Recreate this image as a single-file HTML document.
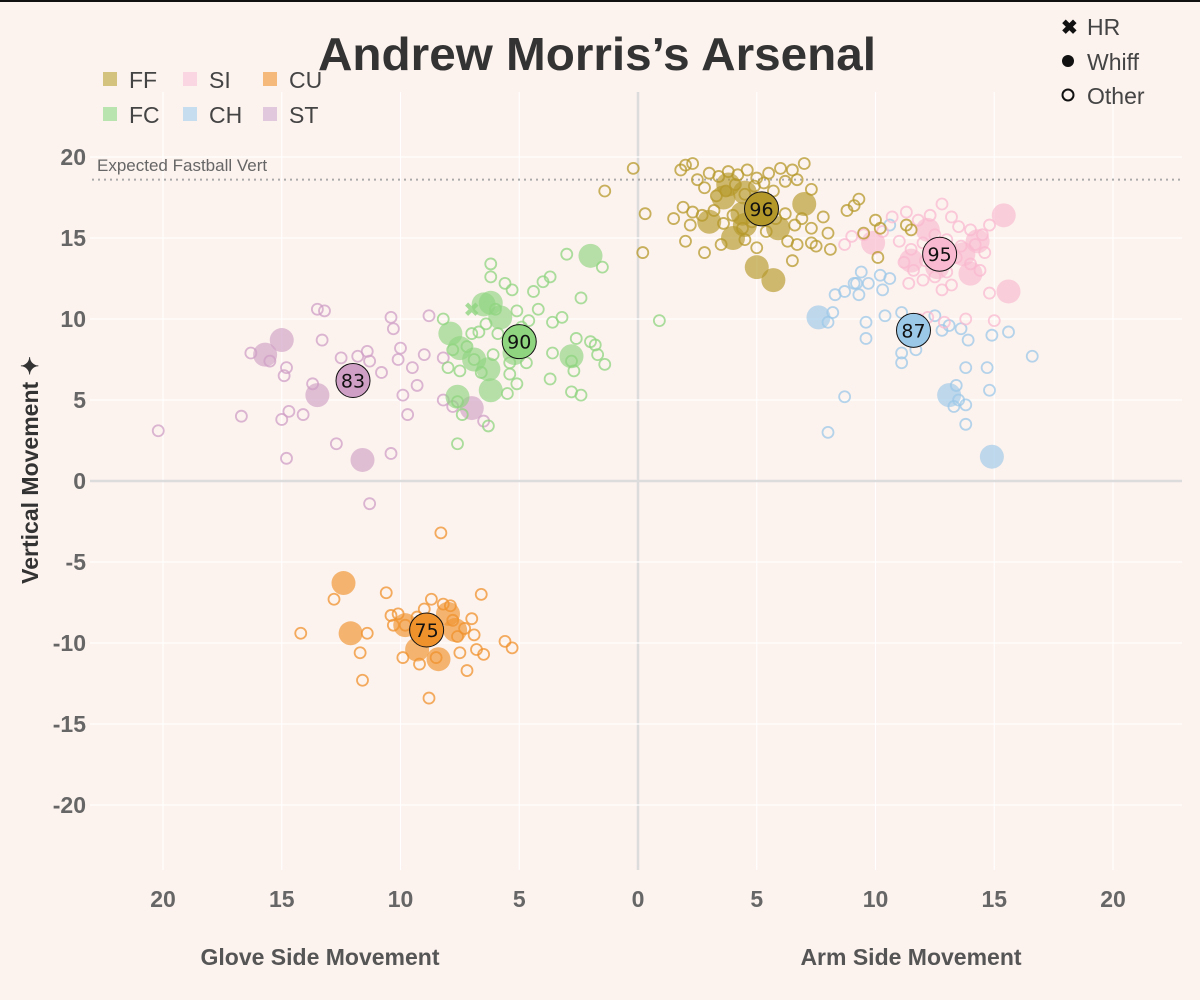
<!DOCTYPE html>
<html><head><meta charset="utf-8"><style>
body{margin:0;background:#fcf2ee;}
svg{display:block;font-family:"Liberation Sans Narrow","Liberation Sans",sans-serif;}
</style></head><body>
<svg id="chart" width="1200" height="1000" viewBox="0 0 1200 1000">
<rect x="0" y="0" width="1200" height="1000" fill="#fcf2ee"/>
<rect x="0" y="0" width="1200" height="2" fill="#111"/>
<g id="grid"></g>
<g id="axes"></g>
<g id="marks"></g>
<text x="597" y="70" text-anchor="middle" font-size="46" font-weight="bold" fill="#333" textLength="558" lengthAdjust="spacingAndGlyphs">Andrew Morris’s Arsenal</text>
<g id="legend"></g>
<g font-size="23" fill="#444">
 <g><text x="1061" y="34" font-size="20" font-weight="bold" fill="#111">✖</text><text x="1087" y="35">HR</text></g>
 <g><circle cx="1068" cy="61" r="6" fill="#111"/><text x="1087" y="70">Whiff</text></g>
 <g><circle cx="1068" cy="95" r="5.5" fill="none" stroke="#111" stroke-width="2"/><text x="1087" y="104">Other</text></g>
</g>
<text x="97" y="171" font-size="17" fill="#666">Expected Fastball Vert</text>
<text x="320" y="965" text-anchor="middle" font-size="23" font-weight="bold" fill="#555">Glove Side Movement</text>
<text x="911" y="965" text-anchor="middle" font-size="23" font-weight="bold" fill="#555">Arm Side Movement</text>
<text transform="translate(38,470) rotate(-90)" text-anchor="middle" font-size="23" font-weight="bold" fill="#333">Vertical Movement ✦</text>
</svg>
<script>
const xTicks=[-20,-15,-10,-5,0,5,10,15,20];
const yTicks=[20,15,10,5,0,-5,-10,-15,-20];
const expectedVert=18.6;
const pitchTypes=["FF","FC","SI","CH","CU","ST"];
const pitchColors={FF:"#b5982a",FC:"#8fd47f",SI:"#f9b9d0",CH:"#9cc8e8",CU:"#f0922c",ST:"#cf9fc5"};
const legendColors={FF:"#d4c27f",FC:"#b9e3af",SI:"#fad6e3",CH:"#c5ddef",CU:"#f5b97c",ST:"#e2c8dd"};
const ffOther=[[-0.2,19.3],[0.3,16.5],[0.2,14.1],[-1.4,17.9],[2,19.5],[2.3,19.6],[1.8,19.2],[2.5,18.6],[3,19],[3.4,18.8],[3.8,19.1],[4.2,18.9],[4.6,19.2],[5,18.7],[5.5,19],[6,19.3],[6.5,19.2],[7,19.6],[2.8,18.1],[3.3,17.6],[3.7,17.9],[4.1,18.3],[4.5,17.7],[4.9,18.2],[5.3,18.4],[5.7,17.9],[6.2,18.5],[6.7,18.6],[7.3,18],[1.5,16.2],[1.9,16.9],[2.3,16.6],[2.2,15.8],[2.7,16.4],[3.2,16.7],[3.6,15.9],[4,16.4],[4.4,15.6],[4.8,16],[5.4,15.4],[5.8,16.2],[6.2,16.5],[6.6,15.8],[6.9,16.2],[7.3,15.6],[7.8,16.3],[8,15.3],[8.8,16.7],[9.3,17.4],[9.1,17],[10,16.1],[10.2,15.6],[11.3,15.8],[11.5,15.5],[2,14.8],[2.8,14.1],[3.5,14.6],[4.5,14.9],[5,14.4],[6.3,14.8],[6.7,14.6],[7.3,14.7],[7.5,14.5],[8.1,14.3],[6.5,13.6],[9.5,15.3],[10.1,13.8]];
const ffWhiff=[[3.6,17.5],[4,15],[4.4,16.5],[3,16],[5,13.2],[5.7,12.4],[7,17.1],[3.8,18.3],[4.5,17.8],[4.5,15.8],[5.9,15.6]];
const siOther=[[9.5,15.2],[10.3,15.4],[10.7,16.3],[11.3,16.6],[11.8,16.1],[12.3,16.4],[12.8,17.1],[13.2,16.3],[13.5,15.7],[14,15.5],[14.5,15.2],[14.8,15.8],[11,14.8],[11.5,14.3],[12,14.7],[12.5,15.2],[13,14.9],[13.6,14.5],[14.2,14.6],[14.6,14.1],[11.2,13.5],[11.6,13],[12.1,13.6],[12.5,12.6],[13,12.9],[13.4,13.8],[14,13.4],[14.4,13],[11.4,12.2],[12,12.4],[12.8,11.8],[13.2,12.1],[14.8,11.6],[13.8,10],[15,9.9],[8.7,14.6],[9,15.1],[12.2,10.1],[11.8,10],[12.9,9.8]];
const siWhiff=[[15.4,16.4],[15.6,11.7],[9.9,14.7],[12.2,15.5],[13.7,14],[14.3,14.8],[11.5,13.6],[12.6,13.2],[14,12.8]];
const chOther=[[8.3,11.5],[8.7,11.7],[9.2,12.2],[9.7,12.2],[10.2,12.7],[10.6,12.5],[9.4,12.9],[9.1,12.2],[10.3,11.8],[9.3,11.5],[9.6,9.8],[9.6,8.8],[10.4,10.2],[11.1,10.4],[11.1,7.9],[11.1,7.3],[11.7,8.1],[12.5,10.2],[12.8,9.3],[13.1,9.6],[13.6,9.4],[13.9,8.7],[13.8,7],[14.7,7],[14.9,9],[15.6,9.2],[16.6,7.7],[14.8,5.6],[13.4,5.9],[13.5,5],[13.8,4.7],[13.3,4.6],[13.8,3.5],[8.7,5.2],[8,3],[8,9.8],[8.2,10.4],[10.6,15.8]];
const chWhiff=[[7.6,10.1],[13.1,5.3],[14.9,1.5]];
const fcOther=[[0.9,9.9],[-1.4,7.2],[-1.5,13.2],[-1.7,7.8],[-1.8,8.4],[-2,8.6],[-2.4,11.3],[-2.6,8.8],[-2.8,7.4],[-2.7,6.8],[-2.8,5.5],[-2.4,5.3],[-3,14],[-3.2,10.1],[-3.6,9.8],[-3.6,7.9],[-3.7,6.3],[-3.7,12.6],[-4,12.3],[-4.2,10.6],[-4.4,11.7],[-4.6,9.9],[-4.7,7.3],[-4.9,9.5],[-5.1,10.5],[-5.1,6],[-5.3,11.8],[-5.4,7.3],[-5.4,6.6],[-5.5,5.4],[-5.6,12.2],[-5.9,9.1],[-6,10.6],[-6.1,7.8],[-6.2,13.4],[-6.2,12.6],[-6.3,3.4],[-6.4,9.7],[-6.6,6.7],[-6.7,9.2],[-6.9,7.5],[-7,9.1],[-7.2,8.3],[-7.4,4.1],[-7.5,6.8],[-7.6,2.3],[-7.6,4.9],[-7.8,8.1],[-8,7],[-8.2,10]];
const fcWhiff=[[-2,13.9],[-2.8,7.7],[-7.9,9.1],[-7.5,8.2],[-7.6,5.2],[-6.9,7.5],[-6.5,10.9],[-6.2,11],[-5.8,10.1],[-6.3,6.9],[-6.2,5.6],[-5.2,7.9]];
const fcHR=[[-7,10.6]];
const stOther=[[-20.2,3.1],[-16.7,4],[-16.3,7.9],[-15.5,7.4],[-15,3.8],[-14.8,7],[-14.9,6.5],[-14.8,1.4],[-14.7,4.3],[-14.1,4.1],[-13.7,6],[-13.5,10.6],[-13.3,8.7],[-13.2,10.5],[-12.7,2.3],[-12.5,7.6],[-11.8,7.7],[-11.4,8],[-11.3,7.4],[-11.3,-1.4],[-10.8,6.7],[-10.4,10.1],[-10.3,9.4],[-10.4,1.7],[-10.1,7.5],[-10,8.2],[-9.9,5.3],[-9.7,4.1],[-9.5,7],[-9.3,5.9],[-9,7.8],[-8.8,10.2],[-8.2,7.6],[-7.8,4.6],[-6.5,3.7],[-8.2,5]];
const stWhiff=[[-15,8.7],[-15.7,7.8],[-13.5,5.3],[-11.6,1.3],[-7,4.5]];
const cuOther=[[-14.2,-9.4],[-12.8,-7.3],[-11.7,-10.6],[-11.6,-12.3],[-11.4,-9.4],[-10.6,-6.9],[-10.4,-8.3],[-10.3,-8.9],[-10.1,-8.2],[-9.8,-8.9],[-9.9,-10.9],[-9.3,-8.4],[-9,-7.9],[-8.7,-7.3],[-8.8,-13.4],[-8.3,-3.2],[-8.2,-7.6],[-7.9,-7.7],[-7.8,-8.6],[-7.6,-9.6],[-7.5,-10.6],[-7.3,-9.1],[-7.2,-11.7],[-7,-8.5],[-6.8,-10.4],[-6.6,-7],[-6.5,-10.7],[-6.9,-9.5],[-5.6,-9.9],[-5.3,-10.3],[-9.2,-11.3],[-8.5,-10.9]];
const cuWhiff=[[-12.4,-6.3],[-12.1,-9.4],[-9.8,-8.9],[-9.3,-10.4],[-8.4,-11],[-8,-8.2],[-7.7,-9.2]];
const avgPitches=["FF","SI","CH","FC","ST","CU"];
const avgX=[5.2,12.7,11.6,-5,-12,-8.9];
const avgY=[16.8,14,9.3,8.6,6.2,-9.2];
const avgSpeed=[96,95,87,90,83,75];

const NS="http://www.w3.org/2000/svg";
const xs=v=>638+v*23.75;
const ys=v=>481-v*16.2;
function mk(tag,attrs,parent){const e=document.createElementNS(NS,tag);for(const k in attrs)e.setAttribute(k,attrs[k]);parent.appendChild(e);return e;}
const grid=document.getElementById('grid'),axes=document.getElementById('axes'),marks=document.getElementById('marks'),legend=document.getElementById('legend');
xTicks.forEach(t=>{
 const l=mk('line',{x1:xs(t),x2:xs(t),y1:92,y2:870,stroke:t===0?'#dcdcdc':'#ffffff','stroke-width':t===0?2.5:1.2},grid);
 
 
 const tx=mk('text',{x:xs(t),y:907,'text-anchor':'middle','font-size':23,'font-weight':'bold',fill:'#666','font-family':'Liberation Sans, sans-serif'},axes);
 tx.textContent=String(Math.abs(t));
 
 
});
yTicks.forEach(t=>{
 const l=mk('line',{x1:90,x2:1182,y1:ys(t),y2:ys(t),stroke:t===0?'#dcdcdc':'#ffffff','stroke-width':t===0?2.5:1.2},grid);
 
 
 const tx=mk('text',{x:86,y:ys(t)+8,'text-anchor':'end','font-size':23,'font-weight':'bold',fill:'#666','font-family':'Liberation Sans, sans-serif'},axes);
 tx.textContent=String(t);
 
 
});
const ev=mk('line',{x1:92,x2:1182,y1:ys(expectedVert),y2:ys(expectedVert),stroke:'#aaa','stroke-width':2,'stroke-dasharray':'2 4'},grid);



const others={FF:ffOther,SI:siOther,CH:chOther,FC:fcOther,ST:stOther,CU:cuOther};
const whiffs={FF:ffWhiff,SI:siWhiff,CH:chWhiff,FC:fcWhiff,ST:stWhiff,CU:cuWhiff};
["ST","CU","FC","CH","SI","FF"].forEach(p=>{
 others[p].forEach(d=>{
  const c=mk('circle',{cx:xs(d[0]),cy:ys(d[1]),r:5.5,fill:'none',stroke:pitchColors[p],'stroke-width':1.8,'stroke-opacity':0.75},marks);
  
  
 });
 whiffs[p].forEach(d=>{
  const c=mk('circle',{cx:xs(d[0]),cy:ys(d[1]),r:12,fill:pitchColors[p],'fill-opacity':0.65},marks);
  
  
 });
});
fcHR.forEach(d=>{
 const t=mk('text',{x:xs(d[0]),y:ys(d[1])+7,'text-anchor':'middle','font-size':20,fill:pitchColors.FC,'fill-opacity':0.8},marks);
 t.textContent='✖';
 
 
});
avgPitches.forEach((p,i)=>{
 const c=mk('circle',{cx:xs(avgX[i]),cy:ys(avgY[i]),r:17,fill:pitchColors[p],stroke:'#111','stroke-width':1},marks);
 
 
 const t=mk('text',{x:xs(avgX[i]),y:ys(avgY[i])+7,'text-anchor':'middle','font-size':19,fill:'#111','font-family':'DejaVu Sans, sans-serif'},marks);
 t.textContent=String(avgSpeed[i]);
 
 
});
const legOrder=[["FF",104,79],["SI",184,79],["CU",264,79],["FC",104,114],["CH",184,114],["ST",264,114]];
legOrder.forEach(([p,x,y])=>{
 const g=mk('g',{},legend);
 
 
 mk('rect',{x:x-1,y:y-7,width:14,height:14,fill:legendColors[p]},g);
 const t=mk('text',{x:x+25,y:y+9,'font-size':23,fill:'#444'},g);
 t.textContent=p;
});
</script>
</body></html>
